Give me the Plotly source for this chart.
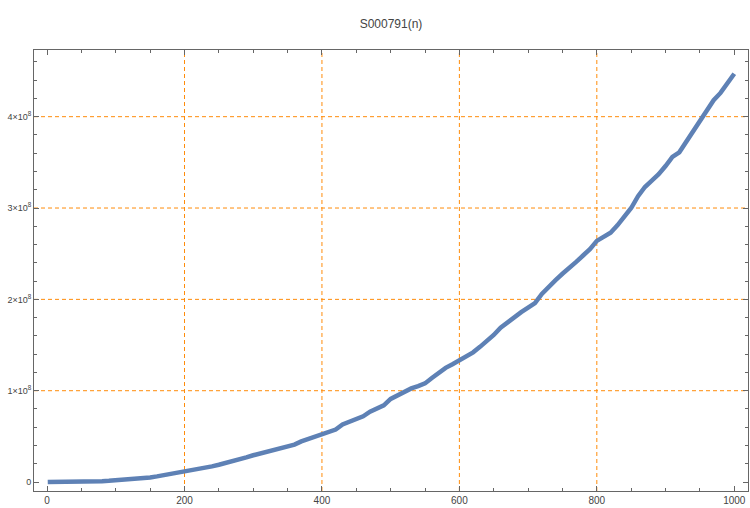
import plotly.graph_objects as go

# Data (n, value in units of 1e6)
n_values = [1, 10, 20, 30, 40, 50, 60, 70, 80, 90,
            100, 110, 120, 130, 140, 150, 160, 170, 180, 190,
            200, 210, 220, 230, 240, 250, 260, 270, 280, 290,
            300, 310, 320, 330, 340, 350, 360, 370, 380, 390,
            400, 410, 420, 430, 440, 450, 460, 470, 480, 490,
            500, 510, 520, 530, 540, 550, 560, 570, 580, 590,
            600, 610, 620, 630, 640, 650, 660, 670, 680, 690,
            700, 710, 720, 730, 740, 750, 760, 770, 780, 790,
            800, 810, 820, 830, 840, 850, 860, 870, 880, 890,
            900, 910, 920, 930, 940, 950, 960, 970, 980, 990, 1000]
s_millions = [0, 0, 0, 0, 0, 0, 0, 0.3, 1.0, 1.3,
              1.8, 2.2, 2.8, 3.3, 4.0, 5.0, 6.2, 7.5, 8.6, 9.8,
              11.0, 12.5, 14.0, 15.5, 17.2, 18.9, 20.8, 22.6, 24.0, 27.0,
              29.3, 31.3, 32.8, 34.5, 36.5, 38.2, 41.0, 44.5, 47.0, 49.8,
              52.5, 55.0, 57.5, 63.0, 66.0, 68.5, 72.0, 77.0, 80.0, 84.0,
              91.0, 95.0, 99.0, 102.5, 105.0, 108.0, 114.0, 120.0, 125.0, 129.0,
              133.0, 137.0, 142.0, 148.0, 154.0, 161.0, 169.0, 175.0, 181.0, 186.0,
              191.0, 196.0, 206.0, 214.0, 221.0, 228.0, 234.0, 241.0, 248.0, 255.0,
              264.0, 269.0, 273.0, 281.0, 290.0, 300.0, 313.0, 323.0, 330.0, 337.0,
              346.0, 356.0, 361.0, 372.0, 384.0, 395.0, 407.0, 418.0, 426.0, 436.0, 447.0]

x_tick_vals = [0, 200, 400, 600, 800, 1000]
x_tick_text = ["0", "200", "400", "600", "800", "1000"]
y_tick_vals = [0, 1e8, 2e8, 3e8, 4e8]
y_tick_text = ["0", "1×10<sup>8</sup>", "2×10<sup>8</sup>", "3×10<sup>8</sup>", "4×10<sup>8</sup>"]
x_grid = [200, 400, 600, 800]
y_grid = [1e8, 2e8, 3e8, 4e8]

title_text = "S000791(n)"

y_vals = [v * 1e6 for v in s_millions]

fig = go.Figure()
fig.add_trace(go.Scatter(
    x=n_values, y=y_vals, mode="lines",
    line=dict(color="#5E81B5", width=4.5),
    hoverinfo="x+y", showlegend=False,
))

grid_color = "rgb(255,140,10)"
shapes = []
for gx in x_grid:
    shapes.append(dict(type="line", xref="x", yref="paper", x0=gx, x1=gx, y0=0, y1=1,
                       line=dict(color=grid_color, width=1, dash="4px,3px"), layer="below"))
for gy in y_grid:
    shapes.append(dict(type="line", xref="paper", yref="y", x0=0, x1=1, y0=gy, y1=gy,
                       line=dict(color=grid_color, width=1, dash="4px,3px"), layer="below"))

axis_color = "#666666"
fig.update_layout(
    width=750, height=508,
    margin=dict(l=34, r=2, t=50, b=17),
    paper_bgcolor="white", plot_bgcolor="white",
    shapes=shapes,
    title=dict(text=title_text, x=(34 + 748) / 2 / 750, xanchor="center",
               y=1 - 24 / 508, yanchor="middle", yref="container",
               font=dict(family="Liberation Sans, Arial, sans-serif", size=12, color="#444444")),
    font=dict(family="Liberation Sans, Arial, sans-serif", size=10, color="#444444"),
    xaxis=dict(range=[-19, 1020], tickvals=x_tick_vals, ticktext=x_tick_text,
               showgrid=False, zeroline=False, showline=True, mirror="ticks",
               linecolor=axis_color, linewidth=1,
               ticks="inside", ticklen=5, tickcolor=axis_color,
               minor=dict(dtick=50, tick0=0, ticks="inside", ticklen=3, tickcolor=axis_color, showgrid=False),
               tickfont=dict(size=10, color="#444444")),
    yaxis=dict(range=[-0.098e8, 4.73e8], tickvals=y_tick_vals, ticktext=y_tick_text,
               showgrid=False, zeroline=False, showline=True, mirror="ticks",
               linecolor=axis_color, linewidth=1,
               ticks="inside", ticklen=5, tickcolor=axis_color,
               minor=dict(dtick=2e7, tick0=0, ticks="inside", ticklen=3, tickcolor=axis_color, showgrid=False),
               tickfont=dict(size=9, color="#444444")),
)

fig.write_html("out.html", config={"displayModeBar": False},
               post_script="document.body.style.margin='0';document.body.style.overflow='hidden';")
